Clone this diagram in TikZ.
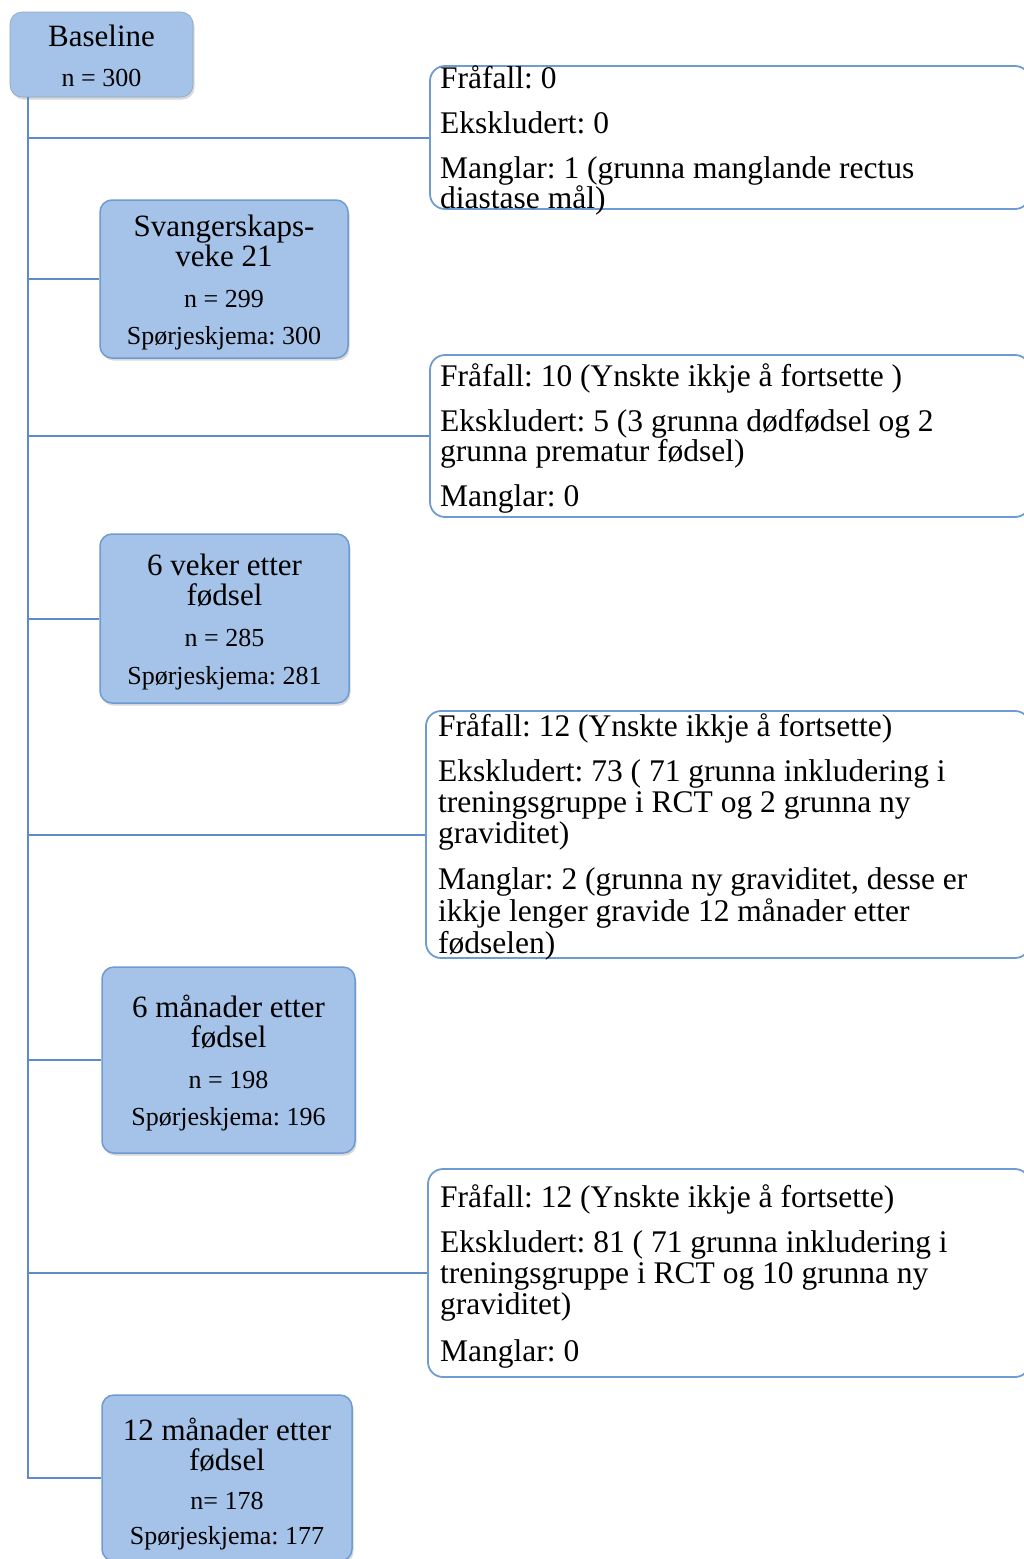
\documentclass[tikz,border=0pt]{standalone}
\usepackage{fontspec}
\setmainfont{Liberation Serif}
\usetikzlibrary{shadows}
\definecolor{boxfill}{HTML}{A5C3E8}
\definecolor{boxline}{HTML}{6F9BD3}
\definecolor{connclr}{HTML}{5F8CC8}
\frenchspacing
\begin{document}
\begin{tikzpicture}[x=1pt,y=-1pt,
  bluebox/.style={draw=boxline, line width=1.5pt, fill=boxfill, rounded corners=12pt,
    inner sep=0pt, drop shadow={shadow xshift=1.5pt, shadow yshift=-2.5pt, opacity=0.25, fill=black!60}},
  notebox/.style={draw=boxline, line width=1.8pt, fill=white, rounded corners=15pt, inner sep=0pt},
  connline/.style={draw=connclr, line width=2pt},
  rt/.style={anchor=base west, inner sep=0pt, font=\fontsize{31.5}{31.5}\selectfont},
  tt/.style={anchor=base, inner sep=0pt, font=\fontsize{31}{31}\selectfont},
  st/.style={anchor=base, inner sep=0pt, font=\fontsize{26}{26}\selectfont}]
\useasboundingbox (0,0) rectangle (1024,1559);
\clip (0,0) rectangle (1024,1559);
\fill[white] (0,0) rectangle (1024,1559);

% trunk coordinate
\coordinate (t0) at (28,97);

% note boxes (their right side runs past the picture's edge)
\node[notebox, minimum width=600, minimum height=143] (r1) at (730,137.5) {};
\node[notebox, minimum width=600, minimum height=162] (r2) at (730,436) {};
\node[notebox, minimum width=604, minimum height=247] (r3) at (728,834.5) {};
\node[notebox, minimum width=602, minimum height=208] (r4) at (729,1273) {};

% blue boxes
\node[bluebox, draw=boxfill!85!black, line width=0.6pt, minimum width=183, minimum height=85] (base) at (101.5,54.5) {};
\node[bluebox, minimum width=248, minimum height=158] (b2) at (224,279) {};
\node[bluebox, minimum width=249, minimum height=169] (b3) at (224.5,618.5) {};
\node[bluebox, minimum width=253, minimum height=186] (b4) at (228.5,1060) {};
\node[bluebox, minimum width=250, minimum height=166] (b5) at (227,1478) {};

% connectors
\draw[connline] (t0) |- (b5.west);
\draw[connline] (t0 |- r1.west) -- (r1.west);
\draw[connline] (t0 |- b2.west) -- (b2.west);
\draw[connline] (t0 |- r2.west) -- (r2.west);
\draw[connline] (t0 |- b3.west) -- (b3.west);
\draw[connline] (t0 |- r3.west) -- (r3.west);
\draw[connline] (t0 |- b4.west) -- (b4.west);
\draw[connline] (t0 |- r4.west) -- (r4.west);

% blue box texts
\node[tt] (base1) at (101.5,46) {Baseline};
\node[st] (base2) at (101.5,86) {n = 300};

\node[tt] (b2a) at (224,236) {Svangerskaps-};
\node[tt] (b2b) at (224,266) {veke 21};
\node[st] (b2c) at (224,307) {n = 299};
\node[st] (b2d) at (224,344) {Spørjeskjema: 300};

\node[tt] (b3a) at (224.5,575) {6 veker etter};
\node[tt] (b3b) at (224.5,605) {fødsel};
\node[st] (b3c) at (224.5,646) {n = 285};
\node[st] (b3d) at (224.5,684) {Spørjeskjema: 281};

\node[tt] (b4a) at (228.5,1017) {6 månader etter};
\node[tt] (b4b) at (228.5,1047) {fødsel};
\node[st] (b4c) at (228.5,1088) {n = 198};
\node[st] (b4d) at (228.5,1125) {Spørjeskjema: 196};

\node[tt] (b5a) at (227,1440) {12 månader etter};
\node[tt] (b5b) at (227,1470) {fødsel};
\node[st] (b5c) at (227,1509) {n= 178};
\node[st] (b5d) at (227,1544) {Spørjeskjema: 177};

% note texts
\node[rt] (r1a) at (440,88) {Fråfall: 0};
\node[rt] (r1b) at (440,133) {Ekskludert: 0};
\node[rt] (r1c) at (440,178) {Manglar: 1 (grunna manglande rectus};
\node[rt] (r1d) at (440,208) {diastase mål)};

\node[rt] (r2a) at (440,386) {Fråfall: 10 (Ynskte ikkje å fortsette )};
\node[rt] (r2b) at (440,431) {Ekskludert: 5 (3 grunna dødfødsel og 2};
\node[rt] (r2c) at (440,461) {grunna prematur fødsel)};
\node[rt] (r2d) at (440,506) {Manglar: 0};

\node[rt] (r3a) at (438,736) {Fråfall: 12 (Ynskte ikkje å fortsette)};
\node[rt] (r3b) at (438,781) {Ekskludert: 73 ( 71 grunna inkludering i};
\node[rt] (r3c) at (438,812) {treningsgruppe i RCT og 2 grunna ny};
\node[rt] (r3d) at (438,843) {graviditet)};
\node[rt] (r3e) at (438,889) {Manglar: 2 (grunna ny graviditet, desse er};
\node[rt] (r3f) at (438,921) {ikkje lenger gravide 12 månader etter};
\node[rt] (r3g) at (438,953) {fødselen)};

\node[rt] (r4a) at (440,1207) {Fråfall: 12 (Ynskte ikkje å fortsette)};
\node[rt] (r4b) at (440,1252) {Ekskludert: 81 ( 71 grunna inkludering i};
\node[rt] (r4c) at (440,1283) {treningsgruppe i RCT og 10 grunna ny};
\node[rt] (r4d) at (440,1314) {graviditet)};
\node[rt] (r4e) at (440,1361) {Manglar: 0};
\end{tikzpicture}
\end{document}
